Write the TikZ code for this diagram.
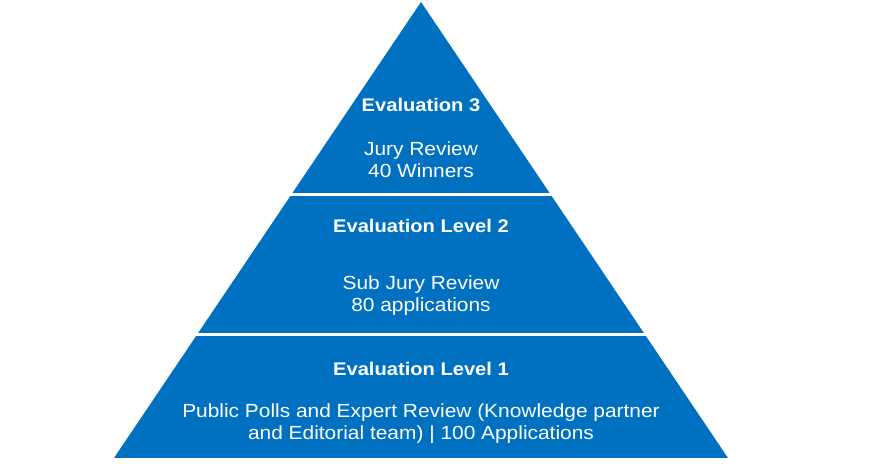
\documentclass[tikz,border=0pt]{standalone}
\usepackage{fontspec}
\setmainfont{Liberation Sans}[FakeStretch=1.1]
\usetikzlibrary{calc}
\definecolor{pyrblue}{HTML}{0070C0}

\begin{document}
\begin{tikzpicture}[x=1pt,y=1pt]
                        \tikzstyle{gap}=[draw=white,line width=3pt,shorten <=-6pt,shorten >=-6pt]
                        \tikzstyle{title}=[text=white,anchor=base,inner sep=0pt,font=\fontsize{18.3}{22}\selectfont\bfseries]
                        \tikzstyle{body}=[text=white,anchor=base,inner sep=0pt,align=center,font=\fontsize{19}{22.3}\selectfont]
                        \useasboundingbox (0,0) rectangle (870,470);
                        \coordinate (apex) at (421,468);
                        \coordinate (bl) at (114,12);
                        \coordinate (br) at (728,12);
                        \fill[pyrblue] (apex) -- (br) -- (bl) -- cycle;
                        % white gaps between the levels
                        \draw[gap] ($(apex)!0.422!(bl)$) -- ($(apex)!0.422!(br)$);
                        \draw[gap] ($(apex)!0.729!(bl)$) -- ($(apex)!0.729!(br)$);
                        % level 3
                        \node[title] (eval3) at (421,358) {Evaluation 3};
                        \node[body] (jury) at (421,292.3) {Jury Review\\40 Winners};
                        % level 2
                        \node[title] (eval2) at (421,237.3) {Evaluation Level 2};
                        \node[body] (subjury) at (421,158.5) {Sub Jury Review\\80 applications};
                        % level 1
                        \node[title] (eval1) at (421,94.7) {Evaluation Level 1};
                        \node[body] (polls) at (421,30) {Public Polls and Expert Review (Knowledge partner\\and Editorial team) | 100 Applications};
                    \end{tikzpicture}
\end{document}
